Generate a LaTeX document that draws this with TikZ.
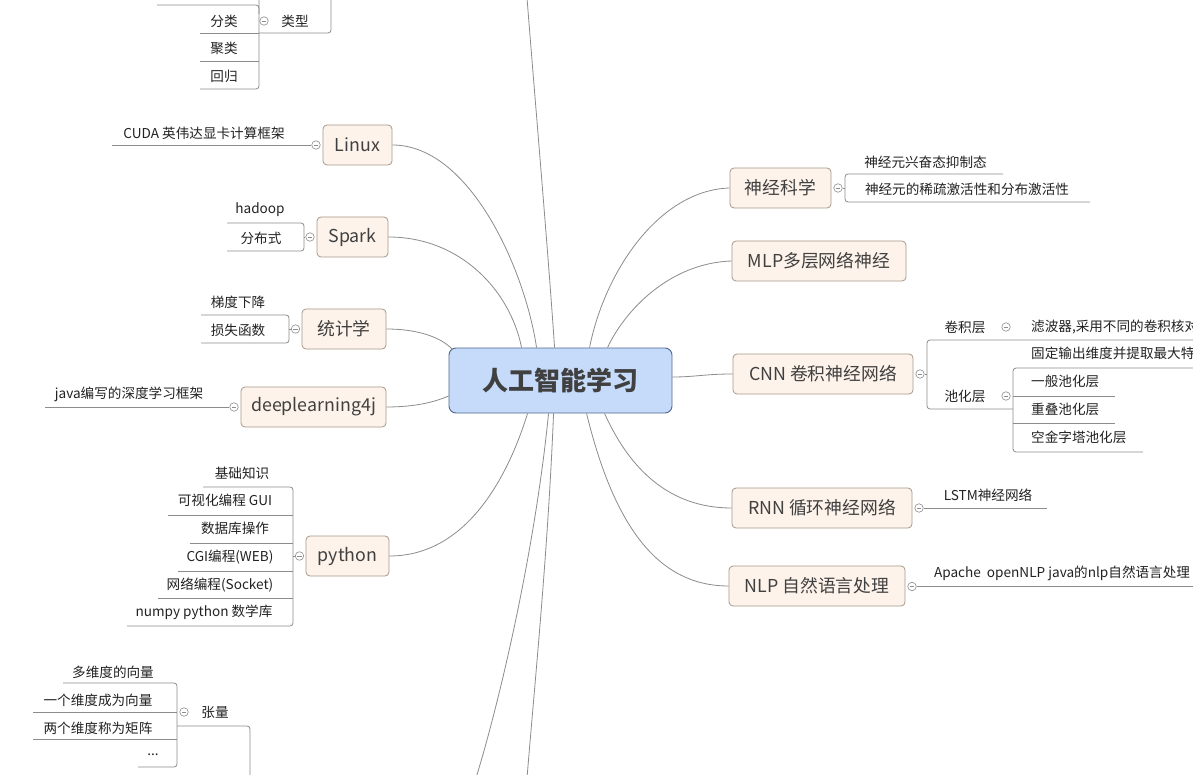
\documentclass[tikz,border=0pt]{standalone}
\usepackage{fontspec}
\setmainfont{Noto Sans CJK SC}
\usetikzlibrary{calc}
\definecolor{mainfill}{HTML}{FDF3EA}
\definecolor{mainborder}{HTML}{A8978A}
\definecolor{centerfill}{HTML}{C6DBFA}
\definecolor{centerborder}{HTML}{4E6892}
\definecolor{linec}{HTML}{8C8C8C}
\definecolor{txt}{HTML}{222222}
\definecolor{maintxt}{HTML}{404040}
\begin{document}
\begin{tikzpicture}[x=1pt,y=-1pt,
  mainnode/.style={draw=mainborder, fill=mainfill, rounded corners=4pt, minimum height=40pt, inner sep=0pt, font=\fontsize{17.8}{20}\selectfont, text=maintxt, line width=0.8pt},
  leaf/.style={inner sep=0pt, font=\fontsize{13.6}{16}\selectfont, text=txt},
  conn/.style={draw=linec, line width=0.8pt},
  br/.style={draw=linec, line width=0.8pt, rounded corners=3pt},
  collapse/.style={circle, draw=linec, fill=white, minimum size=8.5pt, inner sep=0pt, line width=0.6pt,
    path picture={\draw[linec, line width=0.6pt] ([xshift=-2.3pt]path picture bounding box.center) -- ([xshift=2.3pt]path picture bounding box.center);}}
]
\useasboundingbox (0,0) rectangle (1193,775);
\clip (0,0) rectangle (1193,775);
\fill[white] (0,0) rectangle (1193,775);

% ---------- root ----------
\node[draw=centerborder, fill=centerfill, rounded corners=7pt, minimum width=223pt, minimum height=65pt, line width=0.9pt, font=\fontsize{26}{30}\selectfont\bfseries, text=maintxt] (root) at (560.5,380.5) {人工智能学习};

% ---------- main topics ----------
\node[mainnode, minimum width=69pt] (linux) at (357.5,145) {Linux};
\node[mainnode, minimum width=71pt] (spark) at (352.5,237) {Spark};
\node[mainnode, minimum width=84pt] (stat) at (344,329) {统计学};
\node[mainnode, minimum width=145pt] (dl4j) at (313.5,407) {deeplearning4j};
\node[mainnode, minimum width=83pt] (python) at (347.5,556) {python};
\node[mainnode, minimum width=101pt] (neuro) at (780.5,188) {神经科学};
\node[mainnode, minimum width=174pt] (mlp) at (819,261) {MLP多层网络神经};
\node[mainnode, minimum width=180pt] (cnn) at (823,374) {CNN 卷积神经网络};
\node[mainnode, minimum width=180pt] (rnn) at (822,508) {RNN 循环神经网络};
\node[mainnode, minimum width=176pt] (nlp) at (817,586) {NLP 自然语言处理};

% free ends off the picture
\coordinate (topend) at (527,-2);
\coordinate (botA) at (476,778);
\coordinate (botB) at (527,778);

% ---------- main connectors ----------
\draw[conn] (linux.east) .. controls (470,145) and (525,270) .. ($(root.north west)+(88,0)$);
\draw[conn] (spark.east) .. controls (460,237) and (510,290) .. ($(root.north west)+(73,0)$);
\draw[conn] (stat.east) .. controls (415,329) and (440,336) .. ($(root.north west)+(4,2)$);
\draw[conn] (dl4j.east) .. controls (415,407) and (435,402) .. ($(root.west)+(0,15.5)$);
\draw[conn] (python.east) .. controls (470,556) and (510,470) .. ($(root.south west)+(79,0)$);
\draw[conn] ($(root.north west)+(106,0)$) .. controls (548,250) and (535,100) .. (topend);
\draw[conn] ($(root.south west)+(100,0)$) .. controls (535,550) and (500,700) .. (botA);
\draw[conn] ($(root.south west)+(105,0)$) .. controls (548,550) and (535,680) .. (botB);
\draw[conn] (neuro.west) .. controls (660,190) and (605,270) .. ($(root.north west)+(141,0)$);
\draw[conn] (mlp.west) .. controls (670,263) and (625,310) .. ($(root.north west)+(159,0)$);
\draw[conn] (cnn.west) .. controls (705,374) and (695,377) .. ($(root.east)+(0,-3.5)$);
\draw[conn] ($(root.south west)+(156,0)$) .. controls (630,470) and (670,508) .. (rnn.west);
\draw[conn] ($(root.south west)+(138,0)$) .. controls (615,530) and (660,586) .. (nlp.west);

% ---------- 类型 (top left) ----------
\draw[br] (259,-10) -- (259,89) -- (200,89);
\draw[br] (157,5) -- (259,5) -- (259,14);
\draw[conn] (200,33) -- (259,33);
\draw[conn] (200,61) -- (259,61);
\draw[br] (259,33) -- (331,33) -- (331,-10);
\node[leaf] (fenlei) at (224,21) {分类};
\node[leaf] (julei) at (224,48) {聚类};
\node[leaf] (huigui) at (224,76) {回归};
\node[leaf] (leixing) at (295,21) {类型};
\node[collapse] (cType) at (264,21) {};

% ---------- Linux ----------
\node[collapse] (cLinux) at (316,145) {};
\node[leaf] (cuda) at (204,133) {CUDA 英伟达显卡计算框架};
\draw[conn] (cLinux.west) -- (112,145);

% ---------- Spark ----------
\node[collapse] (cSpark) at (310,237) {};
\node[leaf] (hadoop) at (260,210) {hadoop};
\node[leaf] (fbs) at (261,238) {分布式};
\draw[br] (227,223) -- (304,223) -- (304,251) -- (227,251);
\draw[conn] (304,237) -- (cSpark.west);

% ---------- 统计学 ----------
\node[collapse] (cStat) at (295.5,329) {};
\node[leaf] (tidu) at (238,302) {梯度下降};
\node[leaf] (sunshi) at (238,330) {损失函数};
\draw[br] (201,315) -- (289,315) -- (289,343) -- (201,343);
\draw[conn] (289,329) -- (cStat.west);

% ---------- deeplearning4j ----------
\node[collapse] (cDl) at (234,407) {};
\node[leaf] (javadl) at (129,394) {java编写的深度学习框架};
\draw[conn] (cDl.west) -- (45,407);

% ---------- python ----------
\node[collapse] (cPy) at (299.5,556) {};
\node[leaf] (py1) at (242,473) {基础知识};
\node[leaf] (py2) at (225,500) {可视化编程 GUI};
\node[leaf] (py3) at (235,528) {数据库操作};
\node[leaf] (py4) at (230,557) {CGI编程(WEB)};
\node[leaf] (py5) at (220,585) {网络编程(Socket)};
\node[leaf] (py6) at (204,612) {numpy python 数学库};
\draw[br] (203,487) -- (293,487) -- (293,626) -- (127,626);
\draw[conn] (168,515) -- (293,515);
\draw[conn] (190,543) -- (293,543);
\draw[conn] (178,571) -- (293,571);
\draw[conn] (158,598) -- (293,598);
\draw[conn] (293,556) -- (cPy.west);

% ---------- 张量 ----------
\node[collapse] (cTen) at (184,712) {};
\node[leaf] (tensor) at (215,712) {张量};
\node[leaf] (t1) at (113,672) {多维度的向量};
\node[leaf] (t2) at (98,700) {一个维度成为向量};
\node[leaf] (t3) at (98,728) {两个维度称为矩阵};
\node[leaf] (t4) at (153,755) {...};
\draw[br] (63,683) -- (177,683) -- (177,767) -- (138,767);
\draw[conn] (33,712) -- (177,712);
\draw[conn] (33,739) -- (177,739);
\draw[br] (177,726) -- (250,726) -- (250,790);

% ---------- 神经科学 ----------
\node[collapse] (cNeu) at (838,188) {};
\node[leaf] (n1) at (925.5,162) {神经元兴奋态抑制态};
\node[leaf] (n2) at (967,189) {神经元的稀疏激活性和分布激活性};
\draw[br] (1003,174) -- (845,174) -- (845,202) -- (1090,202);
\draw[conn] (cNeu.east) -- (845,188);

% ---------- CNN ----------
\node[collapse] (cCnn) at (920,374) {};
\draw[br] (1200,340) -- (927,340) -- (927,409) -- (1013,409);
\draw[br] (1200,368) -- (1013,368) -- (1013,452) -- (1143,452);
\draw[conn] (1013,396) -- (1115,396);
\draw[conn] (1013,423) -- (1115,423);
\draw[conn] (cCnn.east) -- (927,374);
\node[leaf] (juanji) at (965,327) {卷积层};
\node[collapse] (cConv) at (1006,327) {};
\node[leaf, anchor=west] (filter) at (1031,327) {滤波器,采用不同的卷积核对};
\node[leaf] (chihua) at (965,396) {池化层};
\node[collapse] (cPool) at (1006,396) {};
\node[leaf, anchor=west] (p0) at (1031,353) {固定输出维度并提取最大特};
\node[leaf, anchor=west] (p1) at (1031,381) {一般池化层};
\node[leaf, anchor=west] (p2) at (1031,409) {重叠池化层};
\node[leaf, anchor=west] (p3) at (1031,437) {空金字塔池化层};

% ---------- RNN ----------
\node[collapse] (cRnn) at (919,508) {};
\node[leaf] (lstm) at (988,495) {LSTM神经网络};
\draw[conn] (cRnn.east) -- (1047,508);

% ---------- NLP ----------
\node[collapse] (cNlp) at (912,586.5) {};
\node[leaf] (apache) at (1062,573) {Apache\ \ openNLP java的nlp自然语言处理};
\draw[conn] (cNlp.east) -- (1200,586.5);
\end{tikzpicture}
\end{document}
